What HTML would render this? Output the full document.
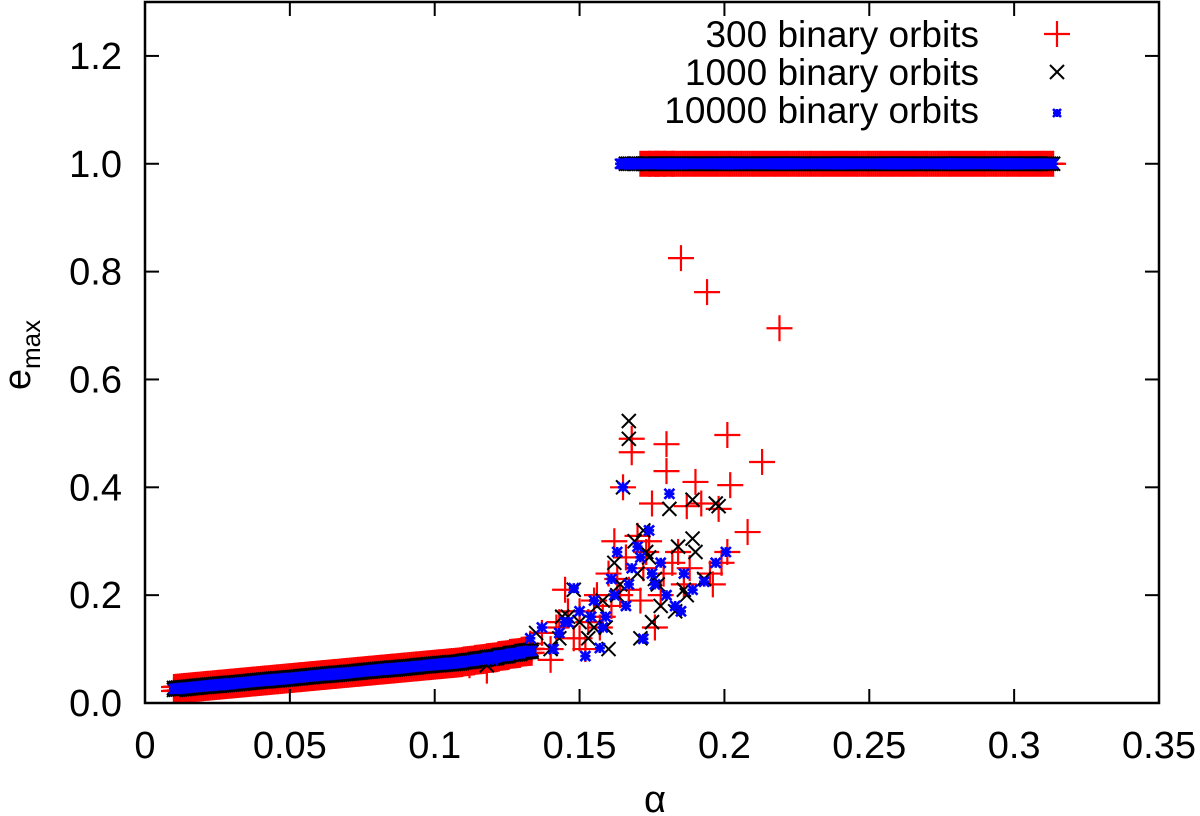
<!DOCTYPE html>
<html><head><meta charset="utf-8"><style>
html,body{margin:0;padding:0;background:#fff;}
svg{display:block;font-family:"Liberation Sans",sans-serif;}
</style></head><body>
<svg id="chart" width="1200" height="816" viewBox="0 0 1200 816">
<g id="marks"></g>
<rect x="145" y="2" width="1014" height="701" fill="none" stroke="#000" stroke-width="2.5"/>
<g id="axes"></g>
<text x="655" y="812" font-size="38" text-anchor="middle">α</text>
<text transform="translate(30,355) rotate(-90)" font-size="38" text-anchor="middle">e<tspan font-size="26" dy="10">max</tspan></text>
<g>
<text x="979" y="47" font-size="37" text-anchor="end">300 binary orbits</text>
<text x="979" y="85" font-size="37" text-anchor="end">1000 binary orbits</text>
<text x="979" y="123" font-size="37" text-anchor="end">10000 binary orbits</text>
<g id="legmarks"></g>
</g>
</svg>
<script>
const xTicks=[0,0.05,0.1,0.15,0.2,0.25,0.3,0.35];
const xTickLabels=["0","0.05","0.1","0.15","0.2","0.25","0.3","0.35"];
const yTicks=[0,0.2,0.4,0.6,0.8,1.0,1.2];
const yTickLabels=["0.0","0.2","0.4","0.6","0.8","1.0","1.2"];
// band (low alpha) points
const bandAlpha=[0.010,0.014,0.018,0.022,0.026,0.030,0.034,0.038,0.042,0.046,0.050,0.054,0.058,0.062,0.066,0.070,0.074,0.078,0.082,0.086,0.090,0.094,0.098,0.102,0.106,0.110,0.114,0.118,0.122,0.126,0.130];
const bandE=[0.026,0.028,0.030,0.032,0.034,0.036,0.038,0.040,0.042,0.044,0.046,0.048,0.050,0.052,0.054,0.056,0.058,0.060,0.062,0.064,0.066,0.068,0.070,0.072,0.074,0.077,0.080,0.083,0.087,0.091,0.095];
// saturated e=1 points
const satAlpha300=[0.171,0.174,0.176,0.179,0.182,0.186,0.190,0.194,0.198,0.202,0.206,0.210,0.214,0.218,0.222,0.226,0.230,0.234,0.238,0.242,0.246,0.250,0.254,0.258,0.262,0.266,0.270,0.274,0.278,0.282,0.286,0.290,0.294,0.298,0.302,0.306,0.310];
const satAlpha1000=[0.166,0.169,0.172,0.176,0.180,0.184,0.188,0.192,0.196,0.200,0.204,0.208,0.212,0.216,0.220,0.224,0.228,0.232,0.236,0.240,0.244,0.248,0.252,0.256,0.260,0.264,0.268,0.272,0.276,0.280,0.284,0.288,0.292,0.296,0.300,0.304,0.308,0.310];
const satAlpha10000=[0.164,0.167,0.170,0.174,0.178,0.182,0.186,0.190,0.194,0.198,0.202,0.206,0.210,0.214,0.218,0.222,0.226,0.230,0.234,0.238,0.242,0.246,0.250,0.254,0.258,0.262,0.266,0.270,0.274,0.278,0.282,0.286,0.290,0.294,0.298,0.302,0.306,0.310];
// scattered points
const scatAlpha300=[0.133,0.137,0.140,0.143,0.145,0.148,0.150,0.152,0.155,0.157,0.160,0.162,0.164,0.165,0.166,0.168,0.168,0.170,0.172,0.174,0.175,0.178,0.180,0.180,0.184,0.185,0.187,0.190,0.192,0.194,0.196,0.198,0.201,0.201,0.202,0.208,0.213,0.219,0.112,0.118,0.125,0.140,0.150,0.158,0.176,0.186,0.142,0.146,0.153,0.156,0.161,0.163,0.167,0.171,0.173,0.179,0.182,0.188,0.195,0.199];
const scatE300=[0.11,0.13,0.10,0.15,0.21,0.12,0.17,0.10,0.19,0.14,0.24,0.30,0.20,0.40,0.27,0.49,0.465,0.31,0.25,0.30,0.37,0.20,0.48,0.43,0.28,0.825,0.365,0.41,0.37,0.762,0.22,0.36,0.497,0.28,0.404,0.317,0.447,0.695,0.07,0.06,0.09,0.08,0.12,0.16,0.14,0.22,0.14,0.17,0.15,0.20,0.18,0.23,0.21,0.19,0.28,0.24,0.26,0.25,0.24,0.26];
const scatAlpha1000=[0.135,0.140,0.144,0.148,0.150,0.153,0.156,0.159,0.162,0.164,0.165,0.167,0.167,0.169,0.171,0.172,0.174,0.176,0.178,0.181,0.184,0.186,0.189,0.189,0.190,0.193,0.197,0.198,0.118,0.126,0.160,0.175,0.143,0.146,0.155,0.158,0.163,0.170,0.173,0.177,0.183,0.187];
const scatE1000=[0.13,0.10,0.16,0.21,0.15,0.12,0.18,0.14,0.26,0.22,0.40,0.523,0.49,0.30,0.12,0.32,0.27,0.23,0.18,0.36,0.29,0.21,0.377,0.305,0.28,0.23,0.37,0.365,0.07,0.09,0.10,0.15,0.12,0.16,0.14,0.19,0.20,0.24,0.28,0.22,0.17,0.20];
const scatAlpha10000=[0.133,0.137,0.141,0.145,0.148,0.150,0.152,0.155,0.157,0.159,0.161,0.163,0.165,0.166,0.168,0.170,0.172,0.174,0.176,0.178,0.181,0.183,0.186,0.189,0.193,0.197,0.2005,0.120,0.127,0.143,0.146,0.154,0.158,0.162,0.167,0.171,0.175,0.180,0.185];
const scatE10000=[0.12,0.14,0.10,0.15,0.213,0.17,0.087,0.19,0.102,0.16,0.23,0.28,0.40,0.18,0.25,0.29,0.119,0.32,0.22,0.26,0.388,0.18,0.24,0.21,0.225,0.26,0.28,0.08,0.09,0.13,0.15,0.16,0.14,0.20,0.22,0.27,0.24,0.20,0.17];

const X0=145,X1=1159,Y0=703,Y1=2;
function xs(a){return X0+a/0.35*(X1-X0);}
function ys(e){return Y0-e/1.3*(Y0-Y1);}
const NS="http://www.w3.org/2000/svg";
const marks=document.getElementById('marks');
const axes=document.getElementById('axes');
function line(g,x1,y1,x2,y2,c,w){const l=document.createElementNS(NS,'line');l.setAttribute('x1',x1);l.setAttribute('y1',y1);l.setAttribute('x2',x2);l.setAttribute('y2',y2);l.setAttribute('stroke',c);l.setAttribute('stroke-width',w);g.appendChild(l);}
function plus(g,x,y,r){line(g,x-r,y,x+r,y,'#f00',2.2);line(g,x,y-r,x,y+r,'#f00',2.2);}
function cross(g,x,y,r){line(g,x-r,y-r,x+r,y+r,'#000',2);line(g,x-r,y+r,x+r,y-r,'#000',2);}
function star(g,x,y,r){line(g,x-r,y-r,x+r,y+r,'#00f',2.6);line(g,x-r,y+r,x+r,y-r,'#00f',2.6);line(g,x-r,y,x+r,y,'#00f',2.6);line(g,x,y-r,x,y+r,'#00f',2.6);}
function grp(name){const g=document.createElementNS(NS,'g');


marks.appendChild(g);return g;}
const g300=grp('series-300-orbits'),g1000=grp('series-1000-orbits'),g10000=grp('series-10000-orbits');
const offs=[0,2,4,6,8,10];
for(let i=0;i<bandAlpha.length;i++){
  const x=xs(bandAlpha[i]),y=ys(bandE[i]);
  offs.forEach(o=>{plus(g300,x+o,y-2-o*0.1,13);plus(g300,x+o,y+2-o*0.1,13);});
}
for(let i=0;i<scatAlpha300.length;i++)plus(g300,xs(scatAlpha300[i]),ys(scatE300[i]),13);
for(let i=0;i<satAlpha300.length;i++){offs.forEach(o=>plus(g300,xs(satAlpha300[i])+o,ys(1.0),13));}
for(let i=0;i<bandAlpha.length;i++){const x=xs(bandAlpha[i]),y=ys(bandE[i]);
  offs.forEach(o=>{cross(g1000,x+o,y-1-o*0.1,7);cross(g1000,x+o,y+1-o*0.1,7);});}
for(let i=0;i<scatAlpha1000.length;i++)cross(g1000,xs(scatAlpha1000[i]),ys(scatE1000[i]),7);
for(let i=0;i<satAlpha1000.length;i++){offs.forEach(o=>cross(g1000,xs(satAlpha1000[i])+o,ys(1.0),7));}
for(let i=0;i<bandAlpha.length;i++){const x=xs(bandAlpha[i]),y=ys(bandE[i]);
  offs.forEach(o=>{star(g10000,x+o,y-o*0.1,5);});}
for(let i=0;i<scatAlpha10000.length;i++)star(g10000,xs(scatAlpha10000[i]),ys(scatE10000[i]),5);
for(let i=0;i<satAlpha10000.length;i++){offs.forEach(o=>star(g10000,xs(satAlpha10000[i])+o,ys(1.0),5));}
// axes
xTicks.forEach((v,i)=>{const x=xs(v);
  if(i>0&&i<xTicks.length-1){line(axes,x,Y0,x,Y0-14,'#000',2);line(axes,x,Y1,x,Y1+14,'#000',2);}
  const t=document.createElementNS(NS,'text');t.setAttribute('x',x);t.setAttribute('y',758);t.setAttribute('font-size','38');t.setAttribute('text-anchor','middle');t.textContent=xTickLabels[i];
  
  
  axes.appendChild(t);});
yTicks.forEach((v,i)=>{const y=ys(v);
  if(i>0){line(axes,X0,y,X0+14,y,'#000',2);line(axes,X1,y,X1-14,y,'#000',2);}
  const t=document.createElementNS(NS,'text');t.setAttribute('x',122);t.setAttribute('y',y+13);t.setAttribute('font-size','38');t.setAttribute('text-anchor','end');t.textContent=yTickLabels[i];
  
  
  axes.appendChild(t);});
const lm=document.getElementById('legmarks');
plus(lm,1057,34,13);cross(lm,1057,72,7);star(lm,1057,113,4);
</script>
</body></html>
